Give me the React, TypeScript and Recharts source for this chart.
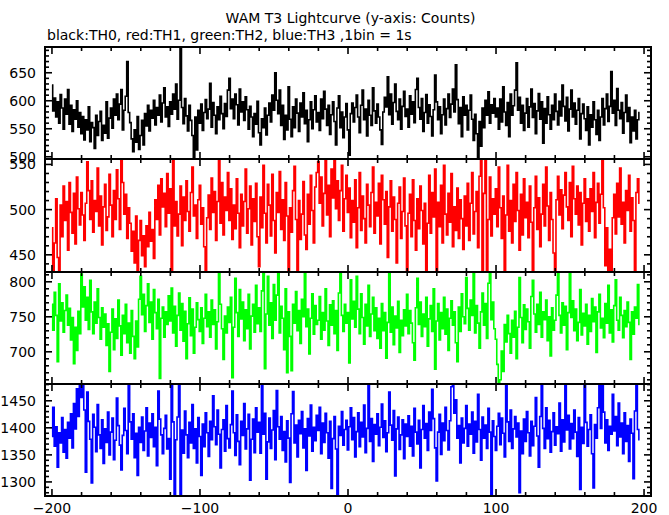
import { LineChart, Line, XAxis, YAxis } from "recharts"

// WAM T3 lightcurve, 1 bin = 1 s, first bin at t = -200
const T0 = -200

const black = [
  628, 582, 605, 571, 598, 560, 611, 587, 549, 603, 576, 620, 558, 592, 545, 584, 567, 600, 553, 579,
  541, 572, 530, 566, 548, 589, 527, 561, 552, 515, 574, 538, 563, 581, 529, 556, 542, 598, 533, 569,
  587, 551, 603, 574, 612, 566, 594, 620, 548, 583, 608, 670, 579, 561, 532, 509, 548, 526, 572, 513,
  538, 565, 521, 577, 555, 592, 546, 583, 569, 601, 557, 588, 574, 610, 562, 596, 623, 571, 589, 554,
  598, 576, 612, 585, 630, 567, 601, 700, 588, 559, 604, 573, 546, 592, 565, 538, 498, 571, 512, 583,
  560, 594, 547, 579, 602, 568, 585, 631, 553, 597, 574, 541, 589, 566, 608, 577, 550, 595, 572, 619,
  640, 586, 603, 568, 612, 593, 557, 621, 580, 598, 565, 607, 584, 549, 590, 571, 536, 577, 558, 599,
  543, 521, 568, 552, 587, 539, 574, 596, 562, 610, 583, 650, 601, 577, 619, 556, 592, 531, 574, 548,
  625, 567, 536, 589, 552, 603, 578, 545, 596, 571, 614, 559, 583, 527, 566, 598, 550, 584, 609, 562,
  579, 547, 603, 568, 617, 585, 556, 592, 540, 575, 598, 563, 521, 587, 609, 552, 580, 534, 571, 595,
  548, 503, 577, 596, 562, 588, 610, 571, 543, 592, 619, 566, 585, 537, 601, 574, 556, 623, 582, 560,
  594, 571, 548, 522, 580, 606, 589, 643, 575, 612, 558, 597, 630, 581, 566, 603, 549, 590, 617, 572,
  585, 553, 609, 576, 598, 561, 620, 640, 588, 567, 604, 545, 579, 611, 560, 593, 572, 537, 584, 646,
  598, 566, 589, 541, 575, 603, 557, 586, 612, 570, 594, 621, 580, 664, 602, 559, 588, 536, 607, 574,
  592, 548, 583, 610, 567, 529, 576, 541, 498, 563, 519, 587, 552, 601, 574, 616, 560, 593, 578, 604,
  571, 587, 549, 603, 562, 625, 580, 556, 597, 536, 612, 574, 591, 619, 668, 583, 606, 560, 592, 547,
  578, 604, 553, 589, 621, 570, 595, 541, 582, 613, 567, 598, 524, 586, 560, 607, 575, 549, 592, 566,
  612, 581, 557, 599, 573, 628, 590, 564, 606, 546, 585, 619, 571, 596, 558, 583, 604, 532, 577, 594,
  568, 547, 589, 521, 575, 553, 598, 566, 540, 583, 529, 571, 604, 557, 586, 612, 563, 590, 652, 578,
  601, 556, 622, 583, 568, 597, 542, 579, 610, 563, 588, 525, 571, 546, 583, 532, 566, 579,
]

const red = [
  480, 425, 463, 512, 447, 428, 505, 470, 526, 488, 509, 455, 530, 497, 474, 518, 462, 536, 501, 483,
  519, 494, 466, 507, 553, 521, 489, 532, 475, 510, 498, 546, 482, 515, 461, 503, 528, 477, 492, 539,
  505, 470, 521, 489, 544, 512, 478, 562, 530, 495, 517, 468, 502, 485, 454, 476, 441, 493, 432, 466,
  488, 449, 471, 437, 482, 459, 497, 465, 478, 446, 511, 489, 527, 472, 534, 503, 518, 481, 540, 496,
  523, 430, 568, 482, 509, 471, 495, 526, 460, 514, 488, 532, 498, 476, 519, 547, 493, 505, 468, 511,
  527, 484, 502, 459, 428, 491, 516, 478, 535, 497, 520, 466, 509, 561, 485, 530, 472, 514, 499, 541,
  488, 523, 467, 505, 479, 534, 496, 458, 517, 482, 509, 545, 474, 501, 526, 461, 512, 487, 529, 470,
  437, 514, 480, 549, 496, 463, 528, 505, 471, 539, 488, 452, 519, 497, 542, 478, 511, 466, 530, 493,
  426, 502, 475, 521, 548, 489, 433, 510, 467, 495, 531, 472, 456, 517, 484, 538, 499, 463, 525, 541,
  553, 507, 536, 482, 518, 559, 494, 527, 470, 545, 513, 566, 501, 532, 488, 521, 549, 476, 512, 538,
  497, 524, 469, 510, 486, 533, 458, 502, 541, 477, 515, 490, 463, 528, 505, 481, 519, 547, 474, 508,
  493, 529, 462, 538, 511, 484, 520, 447, 503, 532, 476, 514, 489, 441, 507, 525, 468, 498, 535, 482,
  429, 496, 517, 470, 533, 488, 455, 512, 479, 526, 499, 462, 507, 432, 485, 538, 474, 519, 492, 545,
  431, 508, 481, 527, 463, 549, 495, 472, 518, 486, 540, 459, 503, 477, 524, 468, 511, 490, 456, 515,
  482, 529, 466, 507, 541, 473, 498, 520, 458, 537, 564, 427, 518, 570, 423, 489, 536, 471, 512, 495,
  523, 481, 547, 502, 468, 515, 432, 494, 549, 476, 510, 463, 528, 487, 541, 499, 455, 517, 472, 534,
  491, 508, 469, 526, 486, 430, 502, 537, 478, 513, 459, 495, 528, 482, 547, 504, 466, 519, 489, 452,
  428, 511, 537, 494, 522, 479, 516, 541, 503, 488, 530, 470, 548, 512, 495, 526, 483, 519, 461, 507,
  534, 487, 512, 476, 523, 498, 541, 469, 508, 529, 485, 517, 565, 502, 438, 480, 425, 456, 430, 491,
  517, 473, 529, 492, 546, 484, 508, 463, 521, 499, 538, 476, 513, 488, 427, 519, 534, 507,
]

const green = [
  768, 731, 785, 752, 686, 797, 744, 770, 728, 759, 781, 738, 762, 717, 749, 683, 735, 702, 758, 726,
  811, 764, 793, 745, 778, 732, 802, 757, 726, 771, 741, 790, 749, 718, 763, 735, 754, 709, 740, 672,
  728, 761, 703, 747, 719, 774, 737, 695, 752, 726, 768, 713, 741, 698, 759, 722, 690, 744, 707, 775,
  808, 753, 782, 729, 766, 797, 742, 771, 718, 789, 756, 733, 775, 662, 748, 764, 721, 757, 739, 780,
  744, 791, 727, 765, 708, 752, 784, 731, 769, 715, 758, 690, 740, 777, 723, 761, 698, 735, 770, 746,
  729, 763, 712, 748, 782, 736, 757, 721, 774, 739, 760, 704, 743, 816, 768, 733, 689, 751, 727, 764,
  742, 778, 663, 735, 805, 756, 722, 789, 747, 771, 716, 760, 733, 782, 704, 751, 768, 728, 795, 740,
  763, 729, 787, 812, 676, 754, 808, 738, 770, 719, 796, 745, 781, 817, 727, 765, 748, 703, 790, 670,
  757, 722, 673, 768, 741, 786, 730, 759, 712, 775, 750, 814, 736, 761, 697, 748, 783, 725, 766, 739,
  745, 779, 718, 756, 731, 790, 744, 709, 767, 738, 773, 726, 759, 702, 784, 815, 752, 729, 768, 741,
  756, 684, 803, 747, 772, 735, 808, 761, 726, 783, 749, 711, 768, 737, 795, 722, 754, 778, 730, 763,
  719, 748, 705, 769, 730, 756, 691, 742, 815, 728, 764, 710, 751, 734, 772, 699, 745, 723, 760, 737,
  782, 726, 759, 741, 713, 688, 763, 805, 739, 771, 722, 754, 736, 778, 708, 747, 766, 729, 790, 675,
  744, 769, 717, 756, 733, 778, 725, 761, 702, 748, 773, 738, 757, 713, 686, 764, 729, 783, 750, 740,
  806, 762, 731, 774, 752, 815, 727, 766, 741, 705, 757, 784, 738, 769, 719, 798, 812, 746, 771, 733,
  718, 682, 653, 660, 701, 672, 739, 714, 752, 726, 698, 745, 721, 758, 690, 735, 806, 749, 713, 767,
  732, 761, 743, 705, 779, 802, 754, 728, 768, 739, 785, 721, 757, 746, 774, 716, 750, 694, 763, 731,
  745, 781, 814, 752, 727, 770, 738, 765, 703, 756, 817, 749, 773, 730, 761, 716, 742, 789, 724, 755,
  737, 768, 711, 752, 729, 776, 743, 764, 699, 757, 782, 734, 748, 720, 769, 741, 795, 727, 760, 714,
  766, 803, 745, 731, 778, 752, 720, 759, 736, 771, 742, 689, 757, 725, 764, 748, 796, 739,
]

const blue = [
  1384, 1438, 1366, 1402, 1327, 1391, 1372, 1419, 1355, 1397, 1344, 1410, 1381, 1426, 1363, 1445, 1398, 1472, 1421, 1490,
  1456, 1487, 1433, 1318, 1466, 1412, 1379, 1298, 1425, 1401, 1356, 1443, 1387, 1362, 1415, 1334, 1398, 1373, 1429, 1350,
  1392, 1418, 1341, 1377, 1455, 1404, 1368, 1322, 1386, 1436, 1395, 1352, 1483, 1411, 1379, 1426, 1345, 1390, 1312, 1401,
  1373, 1420, 1358, 1394, 1437, 1348, 1409, 1382, 1426, 1365, 1401, 1330, 1468, 1416, 1387, 1352, 1399, 1423, 1361, 1380,
  1305, 1484, 1411, 1271, 1378, 1420, 1482, 1268, 1396, 1353, 1431, 1387, 1345, 1410, 1372, 1443, 1362, 1398, 1335, 1419,
  1384, 1312, 1407, 1365, 1428, 1391, 1347, 1412, 1378, 1459, 1402, 1369, 1433, 1388, 1326, 1397, 1415, 1357, 1441, 1380,
  1363, 1406, 1468, 1391, 1349, 1424, 1375, 1332, 1412, 1386, 1445, 1361, 1398, 1425, 1303, 1379, 1416, 1354, 1437, 1392,
  1410, 1353, 1484, 1388, 1427, 1305, 1374, 1418, 1362, 1396, 1432, 1341, 1469, 1402, 1379, 1421, 1358, 1393, 1337, 1413,
  1381, 1299, 1426, 1467, 1372, 1405, 1346, 1414, 1389, 1430, 1363, 1398, 1321, 1417, 1385, 1442, 1357, 1401, 1376, 1423,
  1395, 1438, 1352, 1409, 1373, 1427, 1391, 1344, 1412, 1288, 1380, 1421, 1361, 1274, 1403, 1386, 1430, 1368, 1397, 1414,
  1359, 1402, 1437, 1378, 1419, 1346, 1393, 1428, 1365, 1410, 1383, 1442, 1354, 1399, 1481, 1375, 1417, 1338, 1406, 1388,
  1426, 1367, 1401, 1444, 1382, 1413, 1356, 1391, 1466, 1405, 1377, 1432, 1311, 1398, 1420, 1360, 1387, 1415, 1343, 1407,
  1384, 1422, 1366, 1403, 1348, 1436, 1392, 1370, 1414, 1326, 1397, 1441, 1381, 1408, 1358, 1429, 1395, 1471, 1417, 1363,
  1302, 1392, 1425, 1351, 1409, 1376, 1438, 1395, 1359, 1413, 1476, 1484, 1427, 1452, 1381, 1404, 1335, 1418, 1372, 1399,
  1441, 1366, 1407, 1388, 1429, 1353, 1412, 1374, 1462, 1397, 1340, 1420, 1381, 1405, 1362, 1436, 1392, 1274, 1413, 1384,
  1358, 1403, 1427, 1369, 1418, 1390, 1346, 1482, 1411, 1375, 1433, 1362, 1398, 1421, 1383, 1409, 1280, 1394, 1352, 1416,
  1375, 1430, 1391, 1348, 1412, 1367, 1403, 1456, 1385, 1327, 1421, 1483, 1399, 1362, 1437, 1380, 1414, 1355, 1393, 1428,
  1368, 1402, 1389, 1446, 1357, 1415, 1374, 1485, 1396, 1423, 1361, 1408, 1380, 1433, 1392, 1347, 1419, 1286, 1401, 1371,
  1483, 1410, 1366, 1397, 1424, 1352, 1289, 1406, 1381, 1437, 1478, 1399, 1484, 1429, 1372, 1415, 1358, 1403, 1388, 1462,
  1394, 1421, 1367, 1446, 1383, 1409, 1352, 1428, 1375, 1404, 1338, 1416, 1390, 1306, 1431, 1483, 1397, 1378,
]

const blackLabels = [500, 550, 600, 650]
const redLabels = [450, 500, 550]
const greenLabels = [700, 750, 800]
const blueLabels = [1300, 1350, 1400, 1450]
const timeLabels = [-200, -100, 0, 100, 200]
const timeTicks = [-200, -180, -160, -140, -120, -100, -80, -60, -40, -20, 0, 20, 40, 60, 80, 100, 120, 140, 160, 180, 200]

const rows = black.map((v, i) => ({
  t: T0 + i,
  black: v,
  red: red[i],
  green: green[i],
  blue: blue[i],
}))

const W = 669
const H = 515
const PL = 45
const PR = 651
const FONT = '"DejaVu Sans", Verdana, sans-serif'

const panels = [
  { key: "black", color: "#000000", top: 47, bottom: 159, domain: [496, 696], labels: blackLabels },
  { key: "red", color: "#ff0000", top: 159, bottom: 272, domain: [431, 556], labels: redLabels },
  { key: "green", color: "#00ff00", top: 272, bottom: 384, domain: [654, 814], labels: greenLabels },
  { key: "blue", color: "#0000ff", top: 384, bottom: 496, domain: [1274, 1481], labels: blueLabels },
]

function minorTicks(domain: number[]) {
  const out: number[] = []
  for (let v = Math.ceil(domain[0] / 10) * 10; v <= domain[1]; v += 10) out.push(v)
  return out
}

const fmt = (v: number) => (v < 0 ? "\u2212" + Math.abs(v) : String(v))

const tk = { stroke: "#000", strokeWidth: 1.6 }

export default function App() {
  return (
    <div style={{ position: "absolute", left: 0, top: 0, width: W, height: H, background: "#fff", fontFamily: FONT, color: "#000" }}>
      <div style={{ position: "absolute", left: 16, top: 9, width: W, textAlign: "center", fontSize: 14, lineHeight: "18px" }}>
        WAM T3 Lightcurve (y-axis: Counts)
      </div>
      <div style={{ position: "absolute", left: 47, top: 26, fontSize: 14, lineHeight: "18px", whiteSpace: "nowrap" }}>
        black:TH0, red:TH1, green:TH2, blue:TH3 ,1bin = 1s
      </div>
      {panels.map((p, idx) => {
        const last = idx === panels.length - 1
        return (
          <div key={p.key} style={{ position: "absolute", left: 0, top: 0 }}>
            <LineChart width={W} height={H} data={rows} margin={{ top: p.top, bottom: H - p.bottom - 1, left: 0, right: W - PR }}>
              <XAxis
                dataKey="t"
                type="number"
                domain={[-204.7, 204.7]}
                ticks={timeTicks}
                interval={0}
                height={1}
                allowDataOverflow
                tickLine={false}
                axisLine={false}
                tick={(t: any) => {
                  const v = t.payload.value
                  const len = v % 100 === 0 ? 7 : 4
                  return (
                    <g>
                      <line x1={t.x} x2={t.x} y1={p.bottom} y2={p.bottom - len} {...tk} />
                      <line x1={t.x} x2={t.x} y1={p.top} y2={p.top + len} {...tk} />
                      {last && timeLabels.includes(v) && (
                        <text x={t.x} y={p.bottom + 12} textAnchor="middle" dominantBaseline="central" fontSize={14} fontFamily={FONT} fill="#000">
                          {fmt(v)}
                        </text>
                      )}
                    </g>
                  )
                }}
              />
              <YAxis
                type="number"
                domain={p.domain}
                ticks={minorTicks(p.domain)}
                interval={0}
                width={PL}
                allowDataOverflow
                tickLine={false}
                axisLine={false}
                tick={(t: any) => {
                  const v = t.payload.value
                  const len = v % 50 === 0 ? 7 : 4
                  return (
                    <g>
                      <line x1={PL} x2={PL + len} y1={t.y} y2={t.y} {...tk} />
                      <line x1={PR} x2={PR - len} y1={t.y} y2={t.y} {...tk} />
                      {p.labels.includes(v) && (
                        <text x={PL - 9} y={t.y} textAnchor="end" dominantBaseline="central" fontSize={14} fontFamily={FONT} fill="#000">
                          {v}
                        </text>
                      )}
                    </g>
                  )
                }}
              />
              <Line
                type="step"
                dataKey={p.key}
                stroke={p.color}
                strokeWidth={1.6}
                dot={false}
                isAnimationActive={false}
              />
            </LineChart>
            <svg width={W} height={H} style={{ position: "absolute", left: 0, top: 0, pointerEvents: "none" }}>
              <rect x={PL} y={p.top} width={PR - PL} height={p.bottom - p.top} fill="none" stroke="#000" strokeWidth={2} />
            </svg>
          </div>
        )
      })}
    </div>
  )
}
